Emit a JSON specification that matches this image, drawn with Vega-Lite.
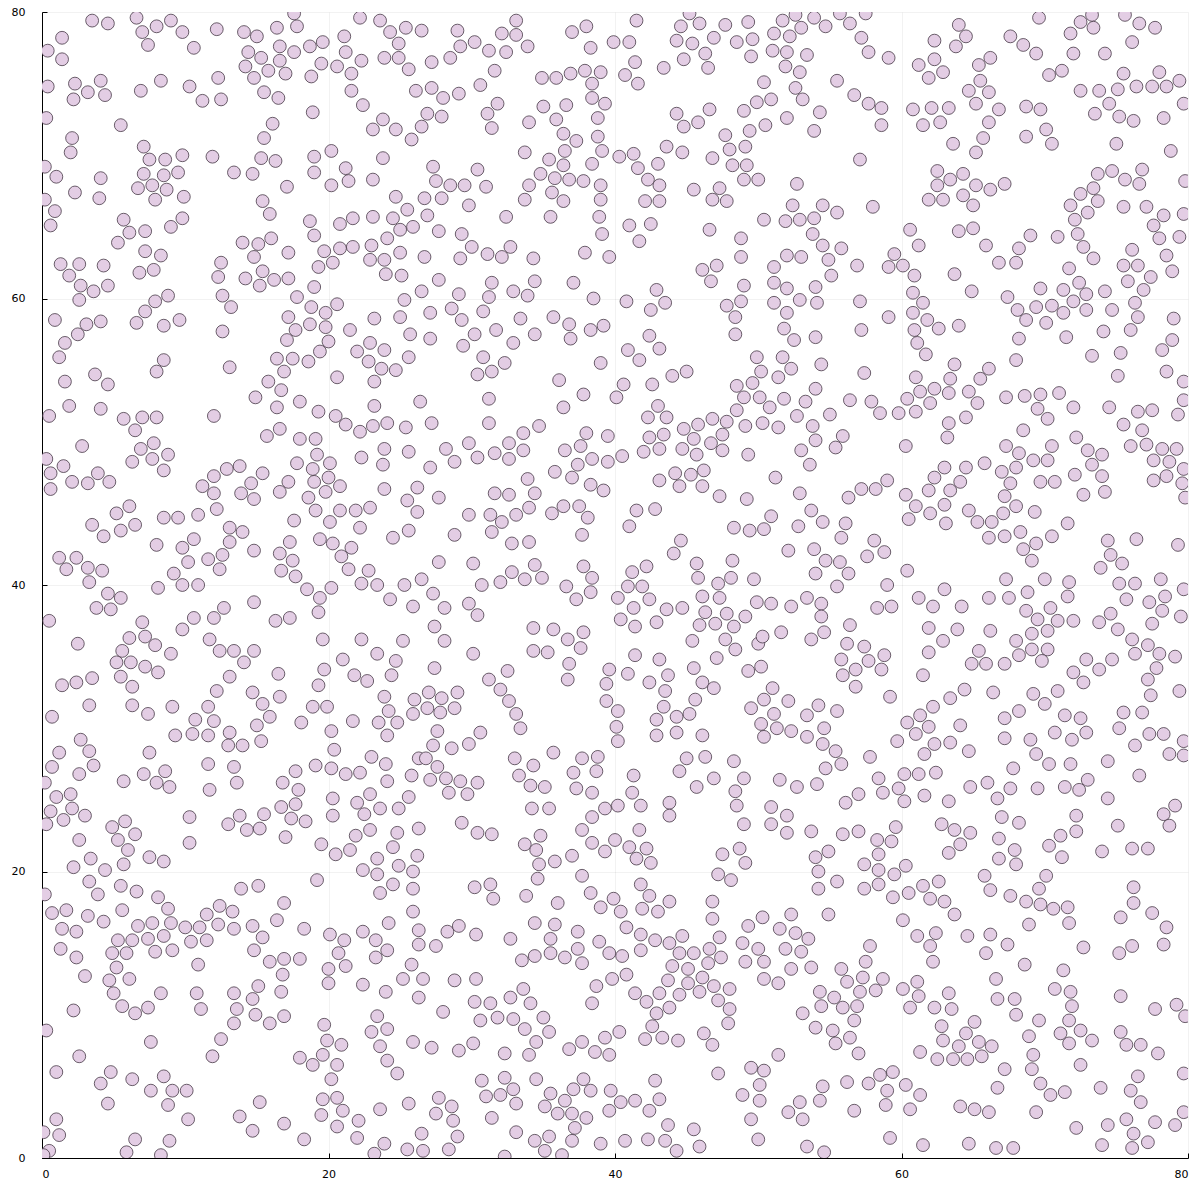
{
  "$schema": "https://vega.github.io/schema/vega-lite/v6.json",
  "autosize": {"type": "none"},
  "padding": {"left": 42, "top": 12, "right": 12, "bottom": 42},
  "width": 1146,
  "height": 1146,
  "background": "white",
  "config": {
    "view": {"stroke": null},
    "axis": {
      "labelFont": "DejaVu Sans",
      "labelFontSize": 11,
      "labelColor": "#000000",
      "domainColor": "#000000",
      "domainWidth": 1,
      "tickColor": "#000000",
      "tickSize": -5,
      "gridColor": "#000000",
      "gridOpacity": 0.1,
      "gridWidth": 0.5,
      "title": null
    }
  },
  "data": {"values": [
{"x":3.5,"y":79.4},{"x":4.6,"y":79.2},{"x":6.6,"y":79.6},{"x":7.0,"y":78.6},{"x":8.0,"y":79.0},{"x":9.0,"y":79.4},{"x":9.8,"y":78.6},{"x":7.4,"y":77.7},{"x":10.6,"y":77.5},{"x":12.2,"y":78.8},
{"x":14.1,"y":78.6},{"x":15.0,"y":78.3},{"x":16.4,"y":78.9},{"x":17.8,"y":79.0},{"x":17.6,"y":79.9},{"x":22.2,"y":79.6},{"x":23.6,"y":79.4},{"x":24.3,"y":78.6},{"x":25.4,"y":78.9},{"x":26.5,"y":78.7},
{"x":24.9,"y":77.8},{"x":1.4,"y":78.2},{"x":0.4,"y":77.3},{"x":1.4,"y":76.7},{"x":14.4,"y":77.2},{"x":15.3,"y":76.8},{"x":16.6,"y":77.6},{"x":16.6,"y":76.6},{"x":17.6,"y":77.2},{"x":18.7,"y":77.6},
{"x":19.6,"y":77.9},{"x":21.1,"y":78.3},{"x":21.2,"y":77.2},{"x":19.5,"y":76.4},{"x":20.6,"y":76.2},{"x":22.3,"y":76.6},{"x":23.9,"y":76.8},{"x":24.9,"y":76.8},{"x":25.6,"y":76.0},{"x":14.2,"y":76.2},
{"x":14.8,"y":75.4},{"x":15.8,"y":75.9},{"x":17.0,"y":75.7},{"x":18.8,"y":75.5},{"x":21.6,"y":75.7},{"x":0.4,"y":74.8},{"x":2.3,"y":75.0},{"x":3.2,"y":74.4},{"x":4.1,"y":75.2},{"x":4.4,"y":74.2},
{"x":2.2,"y":73.9},{"x":6.9,"y":74.5},{"x":8.3,"y":75.2},{"x":10.3,"y":74.8},{"x":11.2,"y":73.8},{"x":12.3,"y":75.4},{"x":12.5,"y":73.9},{"x":15.5,"y":74.4},{"x":16.5,"y":74.0},{"x":21.6,"y":74.5},
{"x":22.4,"y":73.5},{"x":26.1,"y":74.5},{"x":18.9,"y":73.0},{"x":0.3,"y":72.6},{"x":5.5,"y":72.1},{"x":16.1,"y":72.2},{"x":15.5,"y":71.2},{"x":23.8,"y":72.5},{"x":23.1,"y":71.8},{"x":24.7,"y":71.8},
{"x":25.8,"y":71.1},{"x":26.5,"y":72.0},{"x":2.1,"y":71.2},{"x":2.0,"y":70.2},{"x":7.1,"y":70.6},{"x":7.5,"y":69.7},{"x":8.6,"y":69.7},{"x":9.8,"y":70.0},{"x":11.9,"y":69.9},{"x":15.3,"y":69.8},
{"x":16.3,"y":69.6},{"x":19.0,"y":69.9},{"x":20.2,"y":70.3},{"x":23.8,"y":69.8},{"x":0.2,"y":69.2},{"x":1.0,"y":68.5},{"x":4.1,"y":68.4},{"x":7.1,"y":68.7},{"x":8.5,"y":68.6},{"x":9.5,"y":68.8},
{"x":6.7,"y":67.7},{"x":7.7,"y":67.9},{"x":8.7,"y":67.6},{"x":7.9,"y":66.9},{"x":9.9,"y":67.1},{"x":13.4,"y":68.8},{"x":14.7,"y":68.7},{"x":19.0,"y":68.8},{"x":21.2,"y":69.1},{"x":21.4,"y":68.2},
{"x":20.2,"y":67.9},{"x":23.1,"y":68.3},{"x":17.1,"y":67.8},{"x":2.3,"y":67.4},{"x":4.0,"y":67.0},{"x":0.2,"y":66.9},{"x":0.9,"y":66.1},{"x":0.6,"y":65.1},{"x":15.4,"y":66.8},{"x":15.9,"y":65.9},
{"x":24.7,"y":67.1},{"x":26.7,"y":67.0},{"x":25.5,"y":66.2},{"x":5.7,"y":65.5},{"x":6.1,"y":64.6},{"x":7.2,"y":64.7},{"x":5.3,"y":63.9},{"x":9.0,"y":65.0},{"x":9.8,"y":65.6},{"x":18.7,"y":65.4},
{"x":19.0,"y":64.4},{"x":20.8,"y":65.2},{"x":21.7,"y":65.6},{"x":23.1,"y":65.7},{"x":24.5,"y":65.6},{"x":25.0,"y":64.8},{"x":25.9,"y":65.0},{"x":24.1,"y":64.2},{"x":14.0,"y":63.9},{"x":15.1,"y":63.8},
{"x":16.0,"y":64.2},{"x":14.8,"y":62.9},{"x":17.2,"y":63.2},{"x":19.7,"y":63.3},{"x":20.8,"y":63.5},{"x":21.7,"y":63.6},{"x":23.0,"y":63.7},{"x":22.9,"y":62.7},{"x":23.9,"y":62.7},{"x":25.0,"y":63.2},
{"x":24.0,"y":61.7},{"x":25.1,"y":61.6},{"x":7.2,"y":63.3},{"x":8.3,"y":63.0},{"x":6.8,"y":61.8},{"x":7.8,"y":62.0},{"x":1.3,"y":62.4},{"x":2.6,"y":62.4},{"x":4.3,"y":62.3},{"x":1.9,"y":61.6},
{"x":2.7,"y":60.9},{"x":3.6,"y":60.5},{"x":4.6,"y":60.9},{"x":2.6,"y":59.9},{"x":12.5,"y":62.5},{"x":12.3,"y":61.5},{"x":14.2,"y":61.4},{"x":15.4,"y":61.9},{"x":15.2,"y":60.9},{"x":16.2,"y":61.3},
{"x":17.2,"y":61.4},{"x":19.3,"y":62.2},{"x":20.3,"y":62.5},{"x":19.0,"y":60.8},{"x":12.6,"y":60.2},{"x":13.2,"y":59.4},{"x":17.8,"y":60.1},{"x":18.8,"y":59.4},{"x":19.8,"y":59.0},{"x":20.6,"y":59.6},
{"x":25.3,"y":59.9},{"x":26.5,"y":60.5},{"x":17.2,"y":58.7},{"x":18.7,"y":58.2},{"x":19.8,"y":58.0},{"x":17.7,"y":57.8},{"x":17.1,"y":57.1},{"x":20.0,"y":57.0},{"x":19.4,"y":56.3},{"x":21.5,"y":57.8},
{"x":23.2,"y":58.6},{"x":25.0,"y":58.7},{"x":25.7,"y":57.5},{"x":0.9,"y":58.5},{"x":3.1,"y":58.2},{"x":4.1,"y":58.4},{"x":2.5,"y":57.5},{"x":1.6,"y":56.9},{"x":1.2,"y":55.9},{"x":6.6,"y":58.3},
{"x":7.2,"y":59.1},{"x":7.9,"y":59.8},{"x":8.8,"y":60.2},{"x":8.5,"y":58.1},{"x":9.6,"y":58.5},{"x":12.6,"y":57.7},{"x":8.5,"y":55.7},{"x":8.0,"y":54.9},{"x":13.1,"y":55.2},{"x":16.4,"y":55.8},
{"x":17.5,"y":55.8},{"x":16.9,"y":54.9},{"x":18.6,"y":55.6},{"x":22.9,"y":56.9},{"x":22.0,"y":56.3},{"x":23.9,"y":56.4},{"x":22.8,"y":55.6},{"x":23.7,"y":55.1},{"x":24.7,"y":55.0},{"x":25.6,"y":55.9},
{"x":20.6,"y":54.5},{"x":23.2,"y":54.2},{"x":15.8,"y":54.2},{"x":3.7,"y":54.7},{"x":4.6,"y":54.0},{"x":1.6,"y":54.2},
{"x":29.0,"y":78.7},{"x":30.2,"y":77.9},{"x":29.2,"y":77.6},{"x":31.2,"y":77.3},{"x":32.1,"y":78.5},{"x":33.1,"y":79.4},{"x":33.1,"y":78.4},{"x":33.9,"y":77.6},{"x":32.4,"y":77.2},{"x":27.2,"y":76.5},
{"x":28.5,"y":76.8},{"x":31.6,"y":75.9},{"x":30.6,"y":74.9},{"x":27.2,"y":74.7},{"x":28.0,"y":74.0},{"x":29.1,"y":74.3},{"x":31.8,"y":73.6},{"x":31.1,"y":72.9},{"x":26.9,"y":72.9},{"x":27.9,"y":72.7},
{"x":31.4,"y":71.9},{"x":37.0,"y":78.6},{"x":38.0,"y":79.0},{"x":38.3,"y":77.5},{"x":39.9,"y":77.9},{"x":41.0,"y":77.9},{"x":41.5,"y":79.4},{"x":41.4,"y":76.5},{"x":40.7,"y":75.6},{"x":41.6,"y":75.0},
{"x":43.4,"y":76.1},{"x":34.9,"y":75.4},{"x":35.9,"y":75.4},{"x":36.9,"y":75.7},{"x":37.9,"y":75.9},{"x":39.0,"y":75.8},{"x":38.4,"y":75.0},{"x":38.4,"y":74.0},{"x":39.3,"y":73.6},{"x":35.0,"y":73.4},
{"x":36.6,"y":73.5},{"x":38.8,"y":72.6},{"x":34.0,"y":72.3},{"x":35.9,"y":72.5},{"x":36.4,"y":71.5},{"x":37.3,"y":71.0},{"x":38.8,"y":71.3},{"x":36.5,"y":70.3},{"x":39.1,"y":70.3},{"x":33.7,"y":70.2},
{"x":35.4,"y":69.7},{"x":36.4,"y":69.3},{"x":38.4,"y":69.4},{"x":34.8,"y":68.7},{"x":35.8,"y":68.4},{"x":36.8,"y":68.3},{"x":37.8,"y":68.2},{"x":39.0,"y":67.9},{"x":34.0,"y":67.9},{"x":35.6,"y":67.4},
{"x":36.4,"y":66.8},{"x":33.7,"y":66.9},{"x":39.0,"y":66.9},{"x":35.5,"y":65.7},{"x":38.9,"y":65.7},{"x":39.1,"y":64.5},{"x":40.3,"y":69.9},{"x":41.3,"y":70.1},{"x":41.6,"y":69.1},{"x":43.0,"y":69.4},
{"x":42.3,"y":68.3},{"x":43.1,"y":67.9},{"x":42.1,"y":66.8},{"x":43.1,"y":66.8},{"x":43.6,"y":70.6},{"x":44.7,"y":70.2},{"x":45.2,"y":79.9},{"x":44.6,"y":79.0},{"x":45.9,"y":79.2},{"x":44.3,"y":78.0},
{"x":45.4,"y":77.8},{"x":46.9,"y":78.2},{"x":47.7,"y":79.1},{"x":49.3,"y":79.3},{"x":48.5,"y":77.9},{"x":49.6,"y":78.1},{"x":49.5,"y":76.9},{"x":46.3,"y":77.1},{"x":44.8,"y":76.7},{"x":46.5,"y":76.1},
{"x":51.1,"y":78.5},{"x":51.7,"y":79.4},{"x":52.6,"y":79.8},{"x":53.0,"y":78.9},{"x":52.2,"y":78.3},{"x":51.0,"y":77.3},{"x":52.0,"y":77.2},{"x":51.9,"y":76.2},{"x":52.9,"y":75.8},{"x":50.4,"y":75.1},
{"x":52.6,"y":74.7},{"x":53.1,"y":73.9},{"x":49.9,"y":73.7},{"x":50.9,"y":73.9},{"x":49.0,"y":73.1},{"x":52.0,"y":72.6},{"x":49.4,"y":71.7},{"x":50.5,"y":72.1},{"x":44.3,"y":72.9},{"x":44.8,"y":72.0},
{"x":45.8,"y":72.3},{"x":46.6,"y":73.2},{"x":47.7,"y":71.4},{"x":48.0,"y":70.4},{"x":49.1,"y":70.6},{"x":46.8,"y":69.8},{"x":48.2,"y":69.3},{"x":49.2,"y":69.3},{"x":49.0,"y":68.3},{"x":50.0,"y":68.3},
{"x":52.7,"y":68.0},{"x":45.5,"y":67.6},{"x":47.3,"y":67.7},{"x":46.8,"y":66.9},{"x":47.8,"y":66.8},{"x":52.4,"y":66.5},{"x":51.9,"y":65.4},{"x":52.9,"y":65.5},{"x":50.4,"y":65.5},{"x":46.6,"y":64.8},
{"x":48.8,"y":64.2},{"x":48.8,"y":62.9},{"x":52.0,"y":63.0},{"x":53.0,"y":62.9},{"x":51.1,"y":62.2},{"x":51.1,"y":61.1},{"x":52.0,"y":60.7},{"x":49.0,"y":60.9},{"x":48.8,"y":59.8},{"x":47.8,"y":59.5},
{"x":48.4,"y":58.7},{"x":48.4,"y":57.5},{"x":51.1,"y":59.7},{"x":52.0,"y":59.0},{"x":52.9,"y":59.9},{"x":51.8,"y":57.9},{"x":52.5,"y":57.1},{"x":49.9,"y":55.9},{"x":50.2,"y":54.9},{"x":51.7,"y":55.9},
{"x":52.3,"y":55.1},{"x":51.4,"y":54.5},{"x":49.6,"y":54.1},{"x":48.5,"y":53.9},{"x":46.1,"y":62.0},{"x":47.1,"y":62.3},{"x":46.7,"y":61.2},{"x":41.0,"y":65.1},{"x":42.5,"y":65.2},{"x":41.7,"y":64.0},
{"x":37.9,"y":63.2},{"x":39.6,"y":62.9},{"x":37.1,"y":61.1},{"x":38.5,"y":60.0},{"x":40.8,"y":59.8},{"x":42.9,"y":60.6},{"x":43.5,"y":59.7},{"x":42.5,"y":59.2},{"x":42.4,"y":57.4},{"x":43.1,"y":56.5},
{"x":40.9,"y":56.4},{"x":41.7,"y":55.7},{"x":39.0,"y":55.5},{"x":44.0,"y":54.6},{"x":45.0,"y":54.9},{"x":42.6,"y":54.0},{"x":40.6,"y":54.0},{"x":36.1,"y":54.3},{"x":35.7,"y":58.7},{"x":36.8,"y":58.2},
{"x":36.9,"y":57.2},{"x":38.3,"y":57.8},{"x":39.2,"y":58.1},{"x":34.4,"y":57.5},{"x":33.4,"y":58.6},{"x":32.9,"y":56.9},{"x":31.7,"y":57.8},{"x":30.2,"y":57.5},{"x":29.4,"y":56.7},{"x":30.8,"y":55.9},
{"x":32.3,"y":55.5},{"x":31.4,"y":54.9},{"x":30.4,"y":54.7},{"x":27.1,"y":57.2},{"x":27.1,"y":59.0},{"x":28.6,"y":59.3},{"x":29.3,"y":58.5},{"x":30.8,"y":59.1},{"x":31.2,"y":60.1},{"x":31.4,"y":61.1},
{"x":29.1,"y":60.3},{"x":27.7,"y":61.3},{"x":32.9,"y":60.5},{"x":33.9,"y":60.2},{"x":34.4,"y":61.2},{"x":34.3,"y":62.8},{"x":26.7,"y":62.9},{"x":29.2,"y":62.8},{"x":30.0,"y":63.6},{"x":31.1,"y":63.1},
{"x":32.1,"y":62.9},{"x":32.7,"y":63.6},{"x":29.3,"y":64.5},{"x":27.7,"y":64.7},{"x":26.9,"y":65.8},{"x":27.9,"y":67.0},{"x":28.5,"y":67.9},{"x":29.5,"y":67.9},{"x":31.0,"y":67.8},{"x":29.8,"y":66.5},
{"x":32.4,"y":65.7},{"x":27.5,"y":68.2},{"x":27.3,"y":69.2},{"x":30.4,"y":69.0},
{"x":53.9,"y":79.6},{"x":54.7,"y":79.0},{"x":55.7,"y":79.9},{"x":56.4,"y":79.2},{"x":57.5,"y":79.9},{"x":57.2,"y":78.2},{"x":57.7,"y":77.2},{"x":59.1,"y":76.8},{"x":53.4,"y":77.0},{"x":55.5,"y":75.2},
{"x":56.7,"y":74.2},{"x":57.7,"y":73.6},{"x":58.6,"y":73.3},{"x":58.6,"y":72.1},{"x":54.3,"y":73.0},{"x":53.9,"y":71.7},{"x":57.1,"y":69.7},{"x":54.5,"y":66.5},{"x":55.5,"y":66.0},{"x":53.9,"y":65.6},
{"x":53.8,"y":64.5},{"x":54.5,"y":63.7},{"x":55.8,"y":63.5},{"x":54.9,"y":62.7},{"x":55.1,"y":61.6},{"x":56.9,"y":62.3},{"x":58.0,"y":66.4},{"x":54.0,"y":60.8},{"x":54.1,"y":59.7},{"x":57.1,"y":59.8},
{"x":59.1,"y":58.7},{"x":57.2,"y":57.8},{"x":54.0,"y":57.3},{"x":54.4,"y":55.4},{"x":57.4,"y":54.8},{"x":54.0,"y":53.7},{"x":62.3,"y":78.0},{"x":64.0,"y":79.1},{"x":64.5,"y":78.3},{"x":63.8,"y":77.6},
{"x":61.2,"y":76.3},{"x":62.3,"y":76.7},{"x":62.9,"y":75.8},{"x":61.9,"y":75.4},{"x":65.4,"y":76.3},{"x":66.2,"y":76.8},{"x":65.5,"y":75.2},{"x":64.7,"y":74.5},{"x":66.1,"y":74.4},{"x":65.2,"y":73.6},
{"x":66.8,"y":73.2},{"x":66.1,"y":72.3},{"x":65.7,"y":71.2},{"x":65.2,"y":70.2},{"x":63.6,"y":70.8},{"x":60.8,"y":73.2},{"x":62.1,"y":73.3},{"x":63.3,"y":73.3},{"x":61.5,"y":72.1},{"x":62.7,"y":72.3},
{"x":67.6,"y":78.3},{"x":68.5,"y":77.7},{"x":69.4,"y":77.1},{"x":69.6,"y":79.6},{"x":70.3,"y":75.6},{"x":71.2,"y":75.9},{"x":68.7,"y":73.4},{"x":69.7,"y":73.2},{"x":70.1,"y":71.8},{"x":70.5,"y":70.8},
{"x":68.7,"y":71.3},{"x":71.8,"y":78.5},{"x":72.5,"y":79.3},{"x":73.3,"y":79.8},{"x":73.4,"y":78.9},{"x":72.0,"y":77.1},{"x":74.2,"y":77.1},{"x":75.6,"y":79.8},{"x":76.6,"y":79.2},{"x":77.7,"y":78.9},
{"x":76.1,"y":77.9},{"x":75.5,"y":75.7},{"x":78.0,"y":75.8},{"x":79.4,"y":75.2},{"x":72.5,"y":74.5},{"x":73.8,"y":74.5},{"x":75.1,"y":74.6},{"x":76.4,"y":74.8},{"x":77.5,"y":74.8},{"x":78.5,"y":74.8},
{"x":79.7,"y":73.6},{"x":74.5,"y":73.6},{"x":73.5,"y":72.9},{"x":75.2,"y":72.7},{"x":76.2,"y":72.4},{"x":78.3,"y":72.6},{"x":75.0,"y":70.8},{"x":78.8,"y":70.3},{"x":62.5,"y":68.9},{"x":63.4,"y":68.3},
{"x":64.3,"y":68.7},{"x":62.5,"y":67.9},{"x":61.9,"y":66.9},{"x":62.9,"y":66.9},{"x":64.3,"y":67.2},{"x":65.2,"y":67.9},{"x":66.2,"y":67.6},{"x":67.2,"y":68.0},{"x":65.0,"y":66.5},{"x":73.7,"y":68.7},
{"x":74.7,"y":68.9},{"x":75.6,"y":68.3},{"x":76.8,"y":69.0},{"x":76.6,"y":68.0},{"x":79.8,"y":68.2},{"x":72.5,"y":67.3},{"x":73.4,"y":67.7},{"x":71.8,"y":66.5},{"x":73.0,"y":66.0},{"x":73.7,"y":66.8},
{"x":72.1,"y":65.5},{"x":75.5,"y":66.4},{"x":77.1,"y":66.4},{"x":78.3,"y":65.8},{"x":77.6,"y":65.1},{"x":78.0,"y":64.2},{"x":79.4,"y":64.3},{"x":79.7,"y":65.9},{"x":72.3,"y":64.5},{"x":72.7,"y":63.6},
{"x":73.4,"y":62.8},{"x":60.6,"y":64.8},{"x":61.2,"y":63.7},{"x":64.0,"y":64.7},{"x":65.0,"y":64.9},{"x":65.9,"y":63.7},{"x":68.2,"y":63.5},{"x":69.0,"y":64.4},{"x":70.9,"y":64.3},{"x":66.8,"y":62.5},
{"x":68.0,"y":62.5},{"x":59.5,"y":63.1},{"x":59.1,"y":62.2},{"x":60.1,"y":62.3},{"x":60.9,"y":61.6},{"x":63.7,"y":61.7},{"x":64.9,"y":60.5},{"x":60.8,"y":60.4},{"x":61.5,"y":59.7},{"x":60.8,"y":59.0},
{"x":61.8,"y":58.5},{"x":60.9,"y":57.8},{"x":61.1,"y":56.9},{"x":61.7,"y":56.1},{"x":62.6,"y":57.9},{"x":64.0,"y":58.1},{"x":67.4,"y":60.1},{"x":68.1,"y":59.2},{"x":68.7,"y":58.5},{"x":69.4,"y":59.4},
{"x":70.1,"y":58.3},{"x":70.5,"y":59.5},{"x":71.3,"y":59.0},{"x":72.0,"y":59.8},{"x":72.9,"y":59.2},{"x":72.4,"y":61.1},{"x":71.3,"y":60.6},{"x":72.9,"y":60.3},{"x":69.7,"y":60.7},{"x":71.7,"y":62.1},
{"x":74.2,"y":60.5},{"x":76.1,"y":63.4},{"x":75.5,"y":62.3},{"x":76.5,"y":62.3},{"x":75.8,"y":61.2},{"x":77.4,"y":61.5},{"x":76.9,"y":60.6},{"x":76.3,"y":59.7},{"x":76.5,"y":58.7},{"x":76.0,"y":57.8},
{"x":74.7,"y":59.2},{"x":74.1,"y":57.7},{"x":78.5,"y":63.0},{"x":78.9,"y":61.9},{"x":79.0,"y":58.6},{"x":78.9,"y":57.1},{"x":78.2,"y":56.4},{"x":71.5,"y":57.3},{"x":68.2,"y":57.2},{"x":68.0,"y":55.7},
{"x":73.3,"y":56.0},{"x":75.3,"y":56.2},{"x":75.1,"y":54.6},{"x":78.5,"y":54.9},{"x":79.7,"y":54.2},{"x":63.7,"y":55.4},{"x":63.4,"y":54.4},{"x":66.1,"y":55.1},{"x":65.5,"y":54.4},{"x":61.0,"y":54.5},
{"x":62.3,"y":53.7},
{"x":14.9,"y":53.1},{"x":16.7,"y":53.6},{"x":1.9,"y":52.5},{"x":4.1,"y":52.3},{"x":0.5,"y":51.8},{"x":5.7,"y":51.6},{"x":7.0,"y":51.7},{"x":8.0,"y":51.7},{"x":6.5,"y":50.8},{"x":12.0,"y":51.8},
{"x":16.4,"y":52.4},{"x":18.0,"y":52.8},{"x":16.6,"y":50.9},{"x":15.7,"y":50.4},{"x":19.3,"y":52.1},{"x":20.5,"y":51.8},{"x":21.2,"y":51.2},{"x":22.2,"y":50.7},{"x":23.1,"y":51.1},{"x":24.1,"y":51.3},
{"x":25.4,"y":51.0},{"x":23.2,"y":52.5},{"x":26.4,"y":52.8},{"x":18.0,"y":50.2},{"x":19.1,"y":50.2},{"x":19.2,"y":49.1},{"x":17.8,"y":48.5},{"x":18.9,"y":48.1},{"x":20.1,"y":48.5},{"x":19.0,"y":47.2},
{"x":20.0,"y":47.5},{"x":19.8,"y":46.5},{"x":20.8,"y":46.9},{"x":18.6,"y":46.1},{"x":17.2,"y":47.2},{"x":16.6,"y":46.5},{"x":2.8,"y":49.7},{"x":0.3,"y":48.8},{"x":0.6,"y":47.8},{"x":1.5,"y":48.3},
{"x":2.1,"y":47.2},{"x":3.2,"y":47.1},{"x":3.9,"y":47.8},{"x":4.7,"y":47.2},{"x":0.6,"y":46.7},{"x":6.3,"y":48.6},{"x":6.9,"y":49.5},{"x":7.8,"y":49.9},{"x":7.7,"y":48.8},{"x":8.8,"y":49.1},
{"x":8.5,"y":48.0},{"x":12.0,"y":47.6},{"x":11.2,"y":46.9},{"x":12.0,"y":46.4},{"x":12.9,"y":48.1},{"x":13.8,"y":48.3},{"x":15.4,"y":47.8},{"x":14.6,"y":47.1},{"x":13.9,"y":46.4},{"x":14.8,"y":46.0},
{"x":12.2,"y":45.3},{"x":10.9,"y":44.9},{"x":9.5,"y":44.7},{"x":8.5,"y":44.7},{"x":17.6,"y":44.5},{"x":23.9,"y":49.5},{"x":23.8,"y":48.4},{"x":22.3,"y":48.9},{"x":25.6,"y":49.3},{"x":23.9,"y":46.7},
{"x":26.2,"y":46.8},{"x":25.5,"y":45.9},{"x":26.2,"y":45.1},{"x":19.1,"y":45.2},{"x":20.8,"y":45.2},{"x":21.9,"y":45.2},{"x":22.9,"y":45.4},{"x":20.1,"y":44.4},{"x":22.2,"y":44.0},{"x":24.5,"y":43.3},
{"x":25.6,"y":43.8},{"x":5.2,"y":45.0},{"x":6.1,"y":45.5},{"x":3.5,"y":44.2},{"x":4.3,"y":43.4},{"x":5.5,"y":43.8},{"x":6.5,"y":44.2},{"x":8.0,"y":42.8},{"x":9.8,"y":42.6},{"x":10.6,"y":43.2},
{"x":13.1,"y":44.0},{"x":14.0,"y":43.7},{"x":13.1,"y":43.0},{"x":14.8,"y":42.4},{"x":17.3,"y":43.0},{"x":16.6,"y":42.2},{"x":17.5,"y":41.7},{"x":16.7,"y":41.0},{"x":17.7,"y":40.6},{"x":19.4,"y":43.2},
{"x":20.3,"y":42.9},{"x":21.6,"y":42.6},{"x":20.9,"y":42.0},{"x":21.4,"y":41.1},{"x":22.8,"y":41.0},{"x":22.3,"y":40.1},{"x":23.4,"y":40.0},{"x":25.3,"y":40.0},{"x":26.5,"y":40.4},{"x":24.3,"y":39.0},
{"x":25.9,"y":38.5},{"x":18.5,"y":39.7},{"x":19.4,"y":39.1},{"x":20.2,"y":39.8},{"x":19.3,"y":38.1},{"x":11.6,"y":41.8},{"x":12.6,"y":42.1},{"x":12.4,"y":41.1},{"x":10.2,"y":41.6},{"x":9.2,"y":40.8},
{"x":9.8,"y":40.0},{"x":10.9,"y":40.0},{"x":8.1,"y":39.8},{"x":1.2,"y":41.9},{"x":2.4,"y":41.9},{"x":1.7,"y":41.1},{"x":3.2,"y":41.2},{"x":4.2,"y":41.0},{"x":3.3,"y":40.2},{"x":4.6,"y":39.4},
{"x":5.5,"y":39.1},{"x":3.8,"y":38.4},{"x":4.8,"y":38.3},{"x":0.5,"y":37.5},{"x":14.8,"y":38.8},{"x":12.7,"y":38.4},{"x":12.0,"y":37.7},{"x":10.6,"y":37.7},{"x":9.8,"y":36.9},{"x":16.3,"y":37.5},
{"x":17.3,"y":37.7},{"x":7.0,"y":37.4},{"x":7.2,"y":36.4},{"x":6.1,"y":36.3},{"x":7.9,"y":35.8},{"x":9.0,"y":35.2},{"x":5.6,"y":35.4},{"x":5.2,"y":34.6},{"x":6.2,"y":34.6},{"x":7.2,"y":34.3},
{"x":8.1,"y":33.9},{"x":5.5,"y":33.6},{"x":6.3,"y":32.9},{"x":2.5,"y":35.9},{"x":1.4,"y":33.0},{"x":2.4,"y":33.2},{"x":3.5,"y":33.5},{"x":3.3,"y":31.6},{"x":0.7,"y":30.8},{"x":6.3,"y":31.6},
{"x":7.4,"y":31.0},{"x":9.1,"y":31.5},{"x":11.7,"y":36.2},{"x":12.4,"y":35.4},{"x":13.4,"y":35.4},{"x":14.8,"y":35.4},{"x":14.1,"y":34.6},{"x":13.1,"y":33.6},{"x":12.2,"y":32.6},{"x":14.7,"y":32.5},
{"x":15.4,"y":31.7},{"x":15.9,"y":30.8},{"x":15.0,"y":30.2},{"x":16.5,"y":33.8},{"x":16.6,"y":32.2},{"x":11.6,"y":31.5},{"x":10.7,"y":30.6},{"x":12.0,"y":30.5},{"x":9.3,"y":29.5},{"x":10.5,"y":29.6},
{"x":11.6,"y":29.5},{"x":13.1,"y":29.7},{"x":13.0,"y":28.8},{"x":14.0,"y":28.8},{"x":15.3,"y":29.1},{"x":19.6,"y":36.2},{"x":22.3,"y":36.2},{"x":25.2,"y":36.1},{"x":21.0,"y":34.8},{"x":23.4,"y":35.2},
{"x":24.7,"y":34.7},{"x":19.7,"y":34.1},{"x":21.8,"y":33.7},{"x":22.7,"y":33.3},{"x":24.4,"y":33.7},{"x":19.3,"y":33.0},{"x":23.9,"y":32.2},{"x":26.0,"y":32.0},{"x":24.2,"y":31.2},{"x":25.9,"y":31.0},
{"x":23.5,"y":30.4},{"x":24.8,"y":30.4},{"x":24.1,"y":29.5},{"x":18.9,"y":31.5},{"x":19.9,"y":31.5},{"x":18.1,"y":30.4},{"x":21.7,"y":30.5},{"x":20.2,"y":29.8},{"x":20.4,"y":28.5},{"x":23.0,"y":28.0},
{"x":24.0,"y":27.5},{"x":26.3,"y":27.9},{"x":19.1,"y":27.4},{"x":20.2,"y":27.2},{"x":21.2,"y":26.8},{"x":22.2,"y":26.9},{"x":17.7,"y":27.0},{"x":13.4,"y":27.3},{"x":11.6,"y":27.5},{"x":8.6,"y":27.0},
{"x":7.1,"y":26.8},{"x":2.6,"y":26.8},{"x":3.6,"y":27.4},{"x":0.7,"y":27.3},{"x":1.2,"y":28.3},{"x":2.7,"y":29.2},{"x":3.3,"y":28.4},{"x":7.5,"y":28.3},
{"x":31.2,"y":53.0},{"x":37.8,"y":53.3},{"x":40.1,"y":53.1},{"x":36.4,"y":52.4},{"x":27.2,"y":51.3},{"x":31.2,"y":51.3},{"x":29.8,"y":49.9},{"x":28.2,"y":49.5},{"x":28.8,"y":48.6},{"x":30.4,"y":48.9},
{"x":31.6,"y":49.2},{"x":32.6,"y":49.9},{"x":33.6,"y":50.6},{"x":33.6,"y":49.4},{"x":32.6,"y":48.8},{"x":34.7,"y":51.1},{"x":27.1,"y":48.2},{"x":27.7,"y":46.1},{"x":31.6,"y":46.4},{"x":32.6,"y":46.3},
{"x":33.9,"y":47.4},{"x":34.4,"y":46.4},{"x":34.0,"y":45.4},{"x":33.1,"y":44.9},{"x":32.1,"y":44.4},{"x":31.3,"y":44.9},{"x":31.4,"y":43.7},{"x":29.8,"y":44.9},{"x":28.8,"y":43.5},{"x":32.8,"y":42.9},
{"x":34.0,"y":43.0},{"x":36.5,"y":49.4},{"x":37.6,"y":49.7},{"x":38.0,"y":50.6},{"x":39.5,"y":50.4},{"x":37.4,"y":48.4},{"x":38.4,"y":48.8},{"x":39.5,"y":48.6},{"x":40.5,"y":49.0},{"x":35.8,"y":47.9},
{"x":37.0,"y":47.5},{"x":38.3,"y":47.0},{"x":39.2,"y":46.6},{"x":35.6,"y":45.0},{"x":36.4,"y":45.5},{"x":37.5,"y":45.5},{"x":38.1,"y":44.7},{"x":37.7,"y":43.5},{"x":27.7,"y":41.6},{"x":30.1,"y":41.5},
{"x":27.3,"y":39.4},{"x":30.7,"y":40.0},{"x":32.0,"y":40.2},{"x":32.8,"y":40.9},{"x":33.7,"y":40.4},{"x":34.4,"y":41.4},{"x":34.9,"y":40.5},{"x":37.8,"y":41.3},{"x":38.4,"y":40.5},{"x":38.3,"y":39.5},
{"x":36.6,"y":39.9},{"x":37.3,"y":39.0},{"x":29.8,"y":38.7},{"x":30.4,"y":37.9},{"x":28.1,"y":38.4},{"x":27.4,"y":37.1},{"x":28.1,"y":36.1},{"x":30.1,"y":35.2},{"x":34.3,"y":37.0},{"x":35.7,"y":36.9},
{"x":36.7,"y":36.2},{"x":37.8,"y":36.7},{"x":37.6,"y":35.6},{"x":34.3,"y":35.4},{"x":35.3,"y":35.3},{"x":36.8,"y":34.5},{"x":36.7,"y":33.4},{"x":27.4,"y":34.2},{"x":31.2,"y":33.4},{"x":32.5,"y":34.0},
{"x":32.0,"y":32.7},{"x":32.6,"y":31.9},{"x":33.1,"y":31.0},{"x":33.4,"y":30.0},{"x":27.0,"y":32.5},{"x":27.9,"y":32.1},{"x":29.0,"y":32.5},{"x":26.9,"y":31.4},{"x":27.8,"y":31.1},{"x":28.8,"y":31.4},
{"x":27.6,"y":29.8},{"x":27.3,"y":28.8},{"x":28.6,"y":28.6},{"x":29.8,"y":28.9},{"x":30.6,"y":29.7},{"x":26.8,"y":27.9},{"x":27.6,"y":27.3},{"x":33.0,"y":27.9},{"x":34.3,"y":27.4},{"x":35.7,"y":28.3},
{"x":37.7,"y":27.9},{"x":38.8,"y":28.0},{"x":38.7,"y":27.0},{"x":37.1,"y":26.9},{"x":42.3,"y":51.7},{"x":43.0,"y":52.5},{"x":43.6,"y":51.7},{"x":42.4,"y":50.3},{"x":43.4,"y":50.5},{"x":42.0,"y":49.3},
{"x":43.1,"y":49.5},{"x":44.8,"y":50.9},{"x":45.8,"y":51.2},{"x":46.8,"y":51.6},{"x":47.8,"y":51.4},{"x":48.5,"y":52.2},{"x":49.0,"y":53.1},{"x":50.1,"y":53.1},{"x":50.8,"y":52.4},{"x":51.8,"y":53.0},
{"x":52.7,"y":51.8},{"x":45.5,"y":50.2},{"x":46.7,"y":49.9},{"x":47.5,"y":50.5},{"x":47.5,"y":49.4},{"x":44.7,"y":49.5},{"x":45.7,"y":49.1},{"x":49.1,"y":51.1},{"x":50.3,"y":51.3},{"x":51.4,"y":51.0},
{"x":49.3,"y":49.1},{"x":53.0,"y":49.4},{"x":43.1,"y":47.3},{"x":44.2,"y":47.8},{"x":45.3,"y":47.7},{"x":46.2,"y":48.0},{"x":44.5,"y":46.9},{"x":46.1,"y":46.9},{"x":47.3,"y":46.2},{"x":49.2,"y":46.0},
{"x":51.2,"y":47.5},{"x":52.9,"y":46.4},{"x":41.5,"y":45.2},{"x":42.8,"y":45.3},{"x":41.0,"y":44.1},{"x":48.3,"y":44.0},{"x":49.4,"y":43.8},{"x":50.4,"y":43.9},{"x":50.9,"y":44.8},{"x":52.8,"y":44.1},
{"x":44.6,"y":43.1},{"x":44.1,"y":42.2},{"x":45.7,"y":41.5},{"x":45.8,"y":40.5},{"x":48.2,"y":41.7},{"x":48.1,"y":40.5},{"x":47.2,"y":40.1},{"x":49.7,"y":40.4},{"x":52.1,"y":42.4},{"x":41.2,"y":40.9},
{"x":42.2,"y":41.3},{"x":40.9,"y":39.9},{"x":41.9,"y":39.9},{"x":40.2,"y":39.1},{"x":42.4,"y":39.0},{"x":41.3,"y":38.4},{"x":40.4,"y":37.6},{"x":41.4,"y":37.1},{"x":43.6,"y":38.3},{"x":44.7,"y":38.4},
{"x":42.9,"y":37.4},{"x":46.1,"y":39.2},{"x":47.3,"y":39.1},{"x":46.3,"y":38.1},{"x":47.8,"y":38.0},{"x":45.9,"y":37.2},{"x":47.0,"y":37.3},{"x":48.3,"y":37.1},{"x":49.1,"y":37.8},{"x":47.7,"y":36.2},
{"x":48.4,"y":35.5},{"x":50.0,"y":35.9},{"x":50.3,"y":36.4},{"x":49.9,"y":38.8},{"x":50.9,"y":38.7},{"x":52.3,"y":38.5},{"x":51.6,"y":36.7},{"x":45.4,"y":36.1},{"x":47.1,"y":34.9},{"x":49.3,"y":34.0},
{"x":50.2,"y":34.3},{"x":41.4,"y":35.1},{"x":43.1,"y":34.8},{"x":40.9,"y":33.8},{"x":39.6,"y":34.1},{"x":39.4,"y":33.1},{"x":39.4,"y":31.9},{"x":40.2,"y":31.2},{"x":40.1,"y":30.1},{"x":40.2,"y":29.1},
{"x":42.4,"y":33.2},{"x":43.7,"y":33.7},{"x":43.5,"y":32.6},{"x":43.4,"y":31.5},{"x":42.9,"y":30.6},{"x":42.9,"y":29.5},{"x":44.3,"y":30.8},{"x":44.3,"y":29.7},{"x":45.2,"y":31.0},{"x":45.6,"y":32.0},
{"x":45.5,"y":34.2},{"x":46.1,"y":33.2},{"x":46.9,"y":32.8},{"x":46.1,"y":29.5},{"x":49.5,"y":31.4},{"x":50.4,"y":32.0},{"x":51.0,"y":32.8},{"x":52.1,"y":31.9},{"x":51.1,"y":31.0},{"x":50.2,"y":30.3},
{"x":51.3,"y":30.0},{"x":52.3,"y":29.8},{"x":50.4,"y":29.4},{"x":45.0,"y":27.9},{"x":46.3,"y":28.0},{"x":44.5,"y":27.0},{"x":48.3,"y":27.7},
{"x":53.3,"y":52.8},{"x":55.0,"y":51.9},{"x":56.4,"y":52.9},{"x":57.9,"y":52.8},{"x":58.5,"y":52.0},{"x":59.8,"y":52.0},{"x":60.4,"y":53.0},{"x":61.0,"y":52.1},{"x":61.3,"y":53.5},{"x":62.0,"y":52.7},
{"x":63.3,"y":53.4},{"x":64.7,"y":53.5},{"x":65.3,"y":52.7},{"x":64.5,"y":51.7},{"x":63.3,"y":51.3},{"x":63.2,"y":50.3},{"x":60.3,"y":49.7},{"x":67.3,"y":53.1},{"x":68.6,"y":53.2},{"x":69.7,"y":53.3},
{"x":71.0,"y":53.4},{"x":69.5,"y":52.3},{"x":70.2,"y":51.6},{"x":72.0,"y":52.4},{"x":74.5,"y":52.4},{"x":76.5,"y":52.1},{"x":77.5,"y":52.2},{"x":79.7,"y":52.9},{"x":79.3,"y":51.9},{"x":75.5,"y":51.2},
{"x":76.8,"y":50.8},{"x":77.1,"y":49.8},{"x":76.0,"y":49.7},{"x":78.2,"y":49.5},{"x":79.2,"y":49.5},{"x":77.6,"y":48.7},{"x":78.7,"y":48.6},{"x":79.7,"y":48.1},{"x":77.6,"y":47.3},{"x":78.5,"y":47.6},
{"x":79.6,"y":47.1},{"x":79.8,"y":46.1},{"x":68.5,"y":50.8},{"x":67.3,"y":49.7},{"x":68.2,"y":49.2},{"x":69.2,"y":48.7},{"x":70.2,"y":48.7},{"x":70.5,"y":49.7},{"x":72.2,"y":50.3},{"x":73.0,"y":49.4},
{"x":74.0,"y":49.1},{"x":73.3,"y":48.4},{"x":74.0,"y":47.6},{"x":72.1,"y":47.7},{"x":72.7,"y":46.3},{"x":74.2,"y":46.5},{"x":69.7,"y":47.2},{"x":70.7,"y":47.2},{"x":65.8,"y":48.5},{"x":67.0,"y":47.9},
{"x":67.6,"y":47.1},{"x":68.0,"y":48.2},{"x":64.5,"y":48.2},{"x":63.0,"y":48.2},{"x":62.3,"y":47.5},{"x":64.1,"y":47.2},{"x":61.9,"y":46.6},{"x":63.4,"y":46.6},{"x":60.3,"y":46.3},{"x":61.0,"y":45.5},
{"x":63.0,"y":45.6},{"x":60.5,"y":44.6},{"x":62.0,"y":45.0},{"x":63.1,"y":44.3},{"x":64.7,"y":45.2},{"x":65.3,"y":44.4},{"x":66.3,"y":44.4},{"x":67.2,"y":46.2},{"x":67.1,"y":45.0},{"x":68.0,"y":45.5},
{"x":69.3,"y":45.1},{"x":71.6,"y":44.3},{"x":66.1,"y":43.3},{"x":67.2,"y":43.4},{"x":68.3,"y":43.7},{"x":69.4,"y":42.9},{"x":68.5,"y":42.5},{"x":69.1,"y":41.7},{"x":70.5,"y":43.4},{"x":74.4,"y":43.1},
{"x":76.4,"y":43.2},{"x":74.6,"y":42.1},{"x":75.4,"y":41.5},{"x":73.9,"y":41.2},{"x":79.3,"y":42.8},{"x":53.8,"y":51.1},{"x":54.0,"y":50.1},{"x":55.9,"y":50.4},{"x":55.4,"y":49.6},{"x":53.6,"y":48.4},
{"x":56.3,"y":46.1},{"x":57.2,"y":46.7},{"x":58.2,"y":46.7},{"x":59.0,"y":47.3},{"x":53.7,"y":45.2},{"x":54.5,"y":44.4},{"x":56.1,"y":44.3},{"x":55.8,"y":43.3},{"x":53.9,"y":42.5},{"x":54.7,"y":41.7},
{"x":55.7,"y":41.6},{"x":54.0,"y":40.8},{"x":56.3,"y":40.8},{"x":55.5,"y":39.9},{"x":58.1,"y":43.1},{"x":57.6,"y":42.0},{"x":58.8,"y":42.3},{"x":60.4,"y":41.0},{"x":59.0,"y":40.0},{"x":53.4,"y":39.1},
{"x":54.4,"y":38.7},{"x":54.4,"y":37.8},{"x":54.6,"y":36.7},{"x":53.7,"y":36.2},{"x":56.4,"y":37.2},{"x":58.3,"y":38.4},{"x":59.3,"y":38.5},{"x":56.2,"y":35.9},{"x":57.4,"y":35.7},{"x":55.8,"y":34.8},
{"x":56.8,"y":34.1},{"x":57.7,"y":34.7},{"x":58.8,"y":35.1},{"x":58.6,"y":34.1},{"x":55.9,"y":33.7},{"x":56.8,"y":32.9},{"x":59.2,"y":32.2},{"x":54.2,"y":31.6},{"x":55.5,"y":31.2},{"x":53.4,"y":30.9},
{"x":54.6,"y":30.0},{"x":53.4,"y":29.4},{"x":54.5,"y":28.9},{"x":55.4,"y":28.4},{"x":55.8,"y":27.5},{"x":54.7,"y":27.2},{"x":57.8,"y":28.0},{"x":59.7,"y":29.1},{"x":60.4,"y":30.4},{"x":61.3,"y":30.9},
{"x":62.2,"y":31.5},{"x":61.9,"y":30.1},{"x":61.0,"y":29.6},{"x":62.3,"y":28.9},{"x":63.4,"y":29.0},{"x":61.6,"y":28.2},{"x":61.2,"y":26.8},{"x":62.4,"y":26.9},{"x":64.1,"y":30.2},{"x":64.7,"y":28.4},
{"x":63.4,"y":32.1},{"x":64.4,"y":32.7},{"x":66.4,"y":32.5},{"x":61.2,"y":39.1},{"x":62.2,"y":38.5},{"x":63.0,"y":39.7},{"x":64.2,"y":38.5},{"x":61.9,"y":37.0},{"x":62.9,"y":36.1},{"x":63.9,"y":36.9},
{"x":61.9,"y":35.3},{"x":61.5,"y":33.7},{"x":66.2,"y":36.8},{"x":66.1,"y":39.1},{"x":67.3,"y":40.4},{"x":67.5,"y":39.1},{"x":68.8,"y":39.5},{"x":70.0,"y":40.4},{"x":71.7,"y":40.2},{"x":71.6,"y":39.2},
{"x":68.7,"y":38.2},{"x":69.5,"y":37.6},{"x":70.4,"y":38.4},{"x":70.9,"y":37.5},{"x":72.0,"y":37.5},{"x":69.1,"y":36.6},{"x":70.2,"y":36.8},{"x":68.0,"y":36.1},{"x":68.2,"y":35.1},{"x":69.1,"y":35.5},
{"x":70.2,"y":35.5},{"x":69.8,"y":34.7},{"x":65.4,"y":35.4},{"x":64.9,"y":34.5},{"x":65.9,"y":34.5},{"x":67.2,"y":34.5},{"x":72.9,"y":34.8},{"x":73.8,"y":34.1},{"x":74.7,"y":34.8},{"x":72.0,"y":33.9},
{"x":72.7,"y":33.2},{"x":73.8,"y":37.4},{"x":74.6,"y":38.0},{"x":75.1,"y":36.9},{"x":76.1,"y":36.2},{"x":76.3,"y":35.2},{"x":77.2,"y":35.8},{"x":78.0,"y":35.2},{"x":79.1,"y":35.0},{"x":77.8,"y":34.2},
{"x":77.2,"y":33.4},{"x":77.4,"y":32.3},{"x":79.4,"y":32.6},{"x":75.2,"y":40.1},{"x":76.3,"y":40.1},{"x":78.1,"y":40.4},{"x":78.4,"y":39.2},{"x":77.3,"y":38.8},{"x":78.2,"y":38.2},{"x":77.5,"y":37.3},
{"x":75.7,"y":39.0},{"x":79.7,"y":39.7},{"x":79.5,"y":37.8},{"x":69.2,"y":32.4},{"x":70.0,"y":31.7},{"x":70.9,"y":32.6},{"x":68.2,"y":31.2},{"x":67.2,"y":30.7},{"x":67.2,"y":29.3},{"x":69.0,"y":29.2},
{"x":69.4,"y":28.2},{"x":70.3,"y":27.5},{"x":67.8,"y":27.2},{"x":70.7,"y":29.7},{"x":71.4,"y":30.9},{"x":72.5,"y":30.7},{"x":72.9,"y":29.7},{"x":71.9,"y":29.2},{"x":71.8,"y":27.5},{"x":74.4,"y":27.7},
{"x":75.5,"y":31.1},{"x":76.8,"y":31.1},{"x":75.2,"y":30.0},{"x":77.3,"y":29.6},{"x":78.3,"y":29.6},{"x":76.3,"y":28.8},{"x":78.7,"y":28.2},{"x":79.7,"y":29.1},{"x":79.7,"y":28.1},
{"x":25.8,"y":26.7},{"x":0.2,"y":26.2},{"x":5.7,"y":26.3},{"x":8.0,"y":26.2},{"x":8.9,"y":25.9},{"x":11.7,"y":25.7},{"x":13.6,"y":26.2},{"x":16.8,"y":26.2},{"x":17.9,"y":25.7},{"x":24.1,"y":26.3},
{"x":2.0,"y":25.4},{"x":1.0,"y":25.2},{"x":0.6,"y":24.2},{"x":2.1,"y":24.4},{"x":0.3,"y":23.3},{"x":1.5,"y":23.6},{"x":3.0,"y":23.9},{"x":4.9,"y":23.1},{"x":5.8,"y":23.5},{"x":6.5,"y":22.6},
{"x":5.3,"y":22.2},{"x":6.0,"y":21.5},{"x":2.6,"y":22.2},{"x":10.3,"y":23.8},{"x":10.3,"y":22.0},{"x":13.0,"y":23.3},{"x":13.8,"y":23.9},{"x":14.3,"y":22.9},{"x":15.2,"y":23.0},{"x":15.5,"y":24.0},
{"x":16.7,"y":24.5},{"x":17.7,"y":24.7},{"x":17.4,"y":23.7},{"x":18.4,"y":23.5},{"x":17.0,"y":22.4},{"x":20.3,"y":25.1},{"x":20.3,"y":23.9},{"x":22.0,"y":24.8},{"x":22.9,"y":25.4},{"x":22.5,"y":24.0},
{"x":23.6,"y":24.4},{"x":24.9,"y":24.4},{"x":25.6,"y":25.2},{"x":26.3,"y":23.0},{"x":22.9,"y":22.9},{"x":21.9,"y":22.5},{"x":21.5,"y":21.5},{"x":20.5,"y":21.2},{"x":19.5,"y":21.9},{"x":24.8,"y":22.7},
{"x":24.5,"y":21.7},{"x":23.4,"y":20.9},{"x":26.2,"y":21.1},{"x":24.9,"y":20.4},{"x":25.9,"y":20.0},{"x":22.4,"y":20.1},{"x":23.4,"y":19.8},{"x":24.5,"y":19.1},{"x":23.6,"y":18.5},{"x":25.9,"y":18.8},
{"x":19.2,"y":19.4},{"x":2.2,"y":20.3},{"x":3.4,"y":20.9},{"x":4.4,"y":20.1},{"x":5.7,"y":20.5},{"x":7.5,"y":21.0},{"x":8.5,"y":20.7},{"x":0.2,"y":18.4},{"x":3.3,"y":19.3},{"x":3.9,"y":18.4},
{"x":5.5,"y":19.0},{"x":6.6,"y":18.6},{"x":8.1,"y":18.2},{"x":8.8,"y":17.4},{"x":13.9,"y":18.8},{"x":15.1,"y":19.0},{"x":16.9,"y":17.8},{"x":16.4,"y":16.6},{"x":0.7,"y":17.1},{"x":1.7,"y":17.3},
{"x":3.2,"y":16.9},{"x":4.3,"y":16.5},{"x":5.6,"y":17.3},{"x":1.4,"y":16.0},{"x":2.4,"y":15.8},{"x":1.3,"y":14.6},{"x":2.4,"y":14.0},{"x":3.0,"y":12.7},{"x":6.7,"y":16.2},{"x":7.7,"y":16.4},
{"x":9.0,"y":16.4},{"x":10.0,"y":16.1},{"x":11.0,"y":16.1},{"x":11.5,"y":17.0},{"x":12.4,"y":17.6},{"x":13.3,"y":17.2},{"x":12.3,"y":16.3},{"x":13.4,"y":16.0},{"x":14.7,"y":16.2},{"x":5.3,"y":15.2},
{"x":6.3,"y":15.2},{"x":7.4,"y":15.3},{"x":8.5,"y":15.5},{"x":10.4,"y":15.1},{"x":11.5,"y":15.2},{"x":9.1,"y":14.5},{"x":7.9,"y":14.4},{"x":5.9,"y":14.3},{"x":4.9,"y":14.3},{"x":5.2,"y":13.3},
{"x":4.7,"y":12.4},{"x":6.1,"y":12.5},{"x":5.0,"y":11.5},{"x":5.6,"y":10.6},{"x":6.5,"y":10.1},{"x":7.4,"y":10.5},{"x":8.3,"y":11.5},{"x":2.2,"y":10.3},{"x":10.9,"y":13.5},{"x":10.8,"y":11.5},
{"x":11.1,"y":10.4},{"x":14.8,"y":14.5},{"x":15.4,"y":15.4},{"x":15.9,"y":13.7},{"x":16.9,"y":13.9},{"x":18.0,"y":13.9},{"x":16.8,"y":12.8},{"x":16.7,"y":11.6},{"x":15.1,"y":12.0},{"x":14.7,"y":11.1},
{"x":13.4,"y":11.5},{"x":13.6,"y":10.4},{"x":14.9,"y":10.0},{"x":15.9,"y":9.4},{"x":16.9,"y":9.9},{"x":13.4,"y":9.4},{"x":18.3,"y":16.0},{"x":20.1,"y":15.6},{"x":21.1,"y":15.2},{"x":20.7,"y":14.3},
{"x":21.2,"y":13.4},{"x":20.0,"y":13.2},{"x":20.0,"y":12.2},{"x":22.4,"y":15.8},{"x":23.3,"y":15.2},{"x":24.1,"y":14.5},{"x":23.3,"y":14.0},{"x":24.2,"y":16.4},{"x":25.9,"y":17.2},{"x":26.3,"y":15.9},
{"x":26.3,"y":14.9},{"x":25.8,"y":13.5},{"x":25.2,"y":12.5},{"x":26.6,"y":12.5},{"x":26.3,"y":11.2},{"x":22.4,"y":12.1},{"x":24.0,"y":11.6},{"x":23.4,"y":9.9},{"x":23.0,"y":8.8},{"x":24.1,"y":9.0},
{"x":23.6,"y":7.8},{"x":24.1,"y":6.8},{"x":24.8,"y":5.9},{"x":25.9,"y":8.1},{"x":19.7,"y":9.3},{"x":19.9,"y":8.2},{"x":20.9,"y":7.9},{"x":19.6,"y":7.2},{"x":20.6,"y":6.5},{"x":20.2,"y":5.5},
{"x":18.0,"y":7.0},{"x":18.9,"y":6.5},{"x":12.5,"y":8.3},{"x":11.9,"y":7.1},{"x":7.6,"y":8.1},{"x":2.6,"y":7.1},{"x":0.3,"y":8.9},{"x":1.0,"y":6.0},{"x":4.1,"y":5.2},{"x":4.8,"y":6.0},
{"x":6.3,"y":5.5},{"x":7.6,"y":4.7},{"x":8.5,"y":5.7},{"x":9.1,"y":4.7},{"x":10.1,"y":4.7},{"x":8.8,"y":3.7},{"x":4.6,"y":3.8},{"x":1.0,"y":2.7},{"x":0.1,"y":1.8},{"x":1.2,"y":1.6},
{"x":0.5,"y":0.5},{"x":0.1,"y":0.2},{"x":6.5,"y":1.3},{"x":5.9,"y":0.4},{"x":8.3,"y":0.2},{"x":8.9,"y":1.2},{"x":10.2,"y":2.7},{"x":13.8,"y":2.9},{"x":14.7,"y":1.9},{"x":15.2,"y":3.9},
{"x":16.9,"y":2.4},{"x":18.3,"y":1.3},{"x":19.6,"y":4.1},{"x":20.6,"y":4.2},{"x":21.0,"y":3.3},{"x":19.5,"y":3.0},{"x":20.6,"y":2.2},{"x":22.1,"y":2.6},{"x":22.0,"y":1.4},{"x":23.6,"y":3.4},
{"x":25.6,"y":3.8},{"x":23.9,"y":1.0},{"x":23.2,"y":0.3},{"x":25.5,"y":0.6},{"x":26.5,"y":1.7},{"x":26.6,"y":0.5},
{"x":27.1,"y":26.4},{"x":28.2,"y":26.5},{"x":29.2,"y":26.3},{"x":30.4,"y":26.2},{"x":28.4,"y":25.5},{"x":29.7,"y":25.4},{"x":33.3,"y":26.7},{"x":34.1,"y":26.0},{"x":35.1,"y":25.9},{"x":41.3,"y":26.7},
{"x":37.3,"y":25.8},{"x":38.4,"y":25.5},{"x":41.2,"y":25.5},{"x":46.9,"y":26.5},{"x":49.0,"y":26.5},{"x":45.7,"y":25.9},{"x":48.4,"y":25.6},{"x":51.5,"y":26.4},{"x":52.7,"y":25.9},{"x":34.2,"y":24.4},
{"x":35.4,"y":24.4},{"x":39.3,"y":24.4},{"x":40.2,"y":24.6},{"x":41.8,"y":24.6},{"x":43.8,"y":24.8},{"x":43.8,"y":23.9},{"x":38.4,"y":23.8},{"x":48.5,"y":24.6},{"x":50.9,"y":24.5},{"x":52.0,"y":23.9},
{"x":50.9,"y":23.3},{"x":52.0,"y":22.7},{"x":49.0,"y":23.3},{"x":29.3,"y":23.4},{"x":30.4,"y":22.7},{"x":31.4,"y":22.6},{"x":37.7,"y":22.9},{"x":38.4,"y":22.0},{"x":39.3,"y":21.4},{"x":40.0,"y":22.2},
{"x":41.0,"y":21.7},{"x":42.2,"y":21.6},{"x":41.5,"y":20.9},{"x":42.5,"y":20.6},{"x":41.7,"y":22.9},{"x":33.7,"y":21.9},{"x":34.8,"y":22.5},{"x":34.5,"y":21.5},{"x":34.7,"y":20.5},{"x":35.8,"y":20.7},
{"x":37.0,"y":21.1},{"x":34.6,"y":19.5},{"x":37.7,"y":19.7},{"x":47.5,"y":21.2},{"x":48.7,"y":21.6},{"x":49.1,"y":20.6},{"x":47.2,"y":19.8},{"x":48.1,"y":19.4},{"x":30.2,"y":18.9},{"x":31.3,"y":19.1},
{"x":31.5,"y":18.1},{"x":33.8,"y":18.3},{"x":36.0,"y":17.8},{"x":38.3,"y":18.5},{"x":39.9,"y":18.1},{"x":39.0,"y":17.5},{"x":40.4,"y":17.2},{"x":41.8,"y":19.1},{"x":42.4,"y":18.3},{"x":41.9,"y":17.4},
{"x":43.0,"y":17.2},{"x":43.8,"y":17.9},{"x":46.8,"y":17.9},{"x":46.8,"y":16.7},{"x":28.3,"y":15.8},{"x":29.1,"y":16.2},{"x":30.3,"y":15.6},{"x":27.5,"y":14.8},{"x":32.7,"y":15.3},{"x":34.4,"y":16.4},
{"x":35.8,"y":16.3},{"x":35.5,"y":15.3},{"x":37.4,"y":15.8},{"x":33.5,"y":13.8},{"x":34.4,"y":14.1},{"x":35.5,"y":14.3},{"x":36.5,"y":14.0},{"x":37.4,"y":14.6},{"x":37.7,"y":13.6},{"x":38.9,"y":15.1},
{"x":39.6,"y":14.3},{"x":40.5,"y":14.1},{"x":40.8,"y":16.1},{"x":41.8,"y":15.6},{"x":41.8,"y":14.5},{"x":42.8,"y":15.2},{"x":43.8,"y":15.0},{"x":44.7,"y":15.5},{"x":44.5,"y":14.3},{"x":45.5,"y":14.3},
{"x":46.6,"y":14.6},{"x":47.3,"y":15.4},{"x":47.4,"y":14.0},{"x":46.5,"y":13.6},{"x":44.0,"y":13.4},{"x":45.1,"y":13.2},{"x":46.1,"y":12.6},{"x":43.7,"y":12.4},{"x":45.1,"y":12.2},{"x":46.9,"y":12.0},
{"x":48.0,"y":11.8},{"x":45.9,"y":11.6},{"x":47.2,"y":11.0},{"x":48.0,"y":10.4},{"x":47.9,"y":9.4},{"x":44.5,"y":11.4},{"x":43.1,"y":11.5},{"x":41.4,"y":11.5},{"x":42.2,"y":10.9},{"x":43.8,"y":10.5},
{"x":42.9,"y":10.1},{"x":42.6,"y":9.2},{"x":42.1,"y":8.3},{"x":43.3,"y":8.4},{"x":44.4,"y":8.2},{"x":46.2,"y":8.7},{"x":46.8,"y":7.9},{"x":39.8,"y":12.5},{"x":40.8,"y":12.8},{"x":38.7,"y":12.0},
{"x":38.4,"y":10.8},{"x":48.9,"y":15.0},{"x":50.0,"y":14.6},{"x":49.3,"y":16.2},{"x":50.3,"y":16.8},{"x":51.5,"y":16.0},{"x":52.3,"y":17.0},{"x":52.6,"y":15.7},{"x":51.9,"y":14.6},{"x":53.0,"y":14.4},
{"x":49.1,"y":13.7},{"x":50.4,"y":13.7},{"x":52.3,"y":13.2},{"x":50.4,"y":12.5},{"x":51.4,"y":12.2},{"x":53.1,"y":10.1},{"x":28.8,"y":12.4},{"x":30.3,"y":12.5},{"x":30.2,"y":10.9},{"x":31.3,"y":10.8},
{"x":32.7,"y":11.2},{"x":33.6,"y":11.8},{"x":34.1,"y":10.8},{"x":28.0,"y":10.2},{"x":30.6,"y":9.6},{"x":31.8,"y":9.8},{"x":32.9,"y":9.7},{"x":33.7,"y":9.0},{"x":35.0,"y":9.8},{"x":35.4,"y":8.8},
{"x":34.5,"y":8.1},{"x":34.0,"y":7.2},{"x":32.3,"y":7.3},{"x":30.1,"y":8.0},{"x":29.1,"y":7.5},{"x":27.2,"y":7.7},{"x":36.8,"y":7.6},{"x":37.7,"y":8.1},{"x":38.6,"y":7.4},{"x":39.6,"y":7.2},
{"x":39.3,"y":8.4},{"x":40.3,"y":8.8},{"x":51.4,"y":7.2},{"x":49.5,"y":6.3},{"x":50.4,"y":6.1},{"x":47.2,"y":5.9},{"x":42.8,"y":5.4},{"x":50.1,"y":5.1},{"x":48.9,"y":4.4},{"x":50.1,"y":4.0},
{"x":49.5,"y":2.7},{"x":50.0,"y":1.3},{"x":52.9,"y":3.9},{"x":52.1,"y":3.2},{"x":53.1,"y":2.7},{"x":45.5,"y":2.0},{"x":45.9,"y":0.8},{"x":43.7,"y":2.3},{"x":43.5,"y":1.2},{"x":44.3,"y":0.5},
{"x":42.3,"y":1.3},{"x":40.7,"y":1.2},{"x":39.0,"y":1.0},{"x":43.1,"y":4.1},{"x":42.4,"y":3.3},{"x":41.4,"y":4.0},{"x":40.4,"y":3.9},{"x":39.6,"y":3.3},{"x":39.7,"y":4.7},{"x":30.7,"y":5.4},
{"x":32.3,"y":5.6},{"x":32.9,"y":4.8},{"x":32.0,"y":4.4},{"x":31.0,"y":4.3},{"x":33.1,"y":3.8},{"x":34.5,"y":5.5},{"x":35.5,"y":4.5},{"x":36.5,"y":4.0},{"x":37.1,"y":4.8},{"x":37.8,"y":5.5},
{"x":38.3,"y":4.7},{"x":35.1,"y":3.6},{"x":36.0,"y":3.1},{"x":37.0,"y":3.1},{"x":38.0,"y":2.8},{"x":37.2,"y":2.1},{"x":37.0,"y":1.2},{"x":35.4,"y":1.5},{"x":34.4,"y":1.2},{"x":35.1,"y":0.5},
{"x":36.3,"y":0.2},{"x":33.1,"y":1.8},{"x":31.4,"y":2.8},{"x":32.3,"y":0.1},{"x":27.7,"y":4.2},{"x":28.6,"y":3.6},{"x":27.5,"y":3.1},{"x":28.7,"y":2.6},{"x":29.0,"y":1.5},{"x":28.4,"y":0.6},
{"x":58.4,"y":26.5},{"x":60.2,"y":26.8},{"x":76.6,"y":26.7},{"x":73.0,"y":26.4},{"x":54.1,"y":26.1},{"x":57.0,"y":25.4},{"x":56.1,"y":24.8},{"x":58.7,"y":25.5},{"x":59.8,"y":25.8},{"x":60.2,"y":24.9},
{"x":61.6,"y":25.3},{"x":63.3,"y":24.9},{"x":64.8,"y":25.9},{"x":66.0,"y":26.2},{"x":67.6,"y":25.8},{"x":66.7,"y":25.1},{"x":69.5,"y":25.8},{"x":71.4,"y":25.9},{"x":72.4,"y":25.7},{"x":74.4,"y":25.1},
{"x":78.3,"y":24.0},{"x":79.1,"y":24.6},{"x":78.7,"y":23.2},{"x":75.1,"y":23.2},{"x":72.2,"y":23.9},{"x":72.2,"y":22.8},{"x":71.1,"y":22.5},{"x":70.3,"y":21.8},{"x":71.2,"y":21.0},{"x":67.0,"y":23.8},
{"x":68.2,"y":23.4},{"x":66.8,"y":22.3},{"x":67.9,"y":21.5},{"x":66.8,"y":20.9},{"x":68.0,"y":20.5},{"x":74.0,"y":21.4},{"x":76.1,"y":21.6},{"x":77.2,"y":21.6},{"x":53.7,"y":22.8},{"x":55.9,"y":22.6},
{"x":57.0,"y":22.8},{"x":58.3,"y":22.2},{"x":59.3,"y":22.1},{"x":59.6,"y":23.1},{"x":62.8,"y":23.3},{"x":63.7,"y":22.9},{"x":64.8,"y":22.7},{"x":64.1,"y":21.9},{"x":63.3,"y":21.3},{"x":54.0,"y":21.0},
{"x":54.9,"y":21.4},{"x":54.2,"y":20.0},{"x":54.2,"y":18.8},{"x":55.5,"y":19.3},{"x":57.4,"y":20.5},{"x":58.4,"y":21.2},{"x":58.4,"y":20.1},{"x":58.4,"y":19.1},{"x":57.4,"y":18.8},{"x":59.5,"y":19.8},
{"x":60.3,"y":20.4},{"x":59.4,"y":18.2},{"x":60.5,"y":18.5},{"x":61.5,"y":19.0},{"x":62.0,"y":18.1},{"x":62.6,"y":19.3},{"x":63.0,"y":17.9},{"x":63.7,"y":17.0},{"x":60.1,"y":16.6},{"x":54.9,"y":17.0},
{"x":65.8,"y":19.7},{"x":66.2,"y":18.7},{"x":67.6,"y":18.3},{"x":68.7,"y":17.9},{"x":69.7,"y":17.7},{"x":70.6,"y":17.4},{"x":71.6,"y":17.5},{"x":71.7,"y":16.4},{"x":69.6,"y":18.8},{"x":70.1,"y":19.7},
{"x":68.9,"y":16.3},{"x":76.2,"y":18.9},{"x":76.2,"y":17.8},{"x":75.3,"y":16.8},{"x":77.5,"y":17.1},{"x":78.5,"y":16.1},{"x":78.3,"y":14.9},{"x":76.1,"y":14.8},{"x":75.2,"y":14.3},{"x":72.7,"y":14.7},
{"x":53.5,"y":15.3},{"x":53.7,"y":13.3},{"x":57.8,"y":14.8},{"x":57.5,"y":13.7},{"x":55.8,"y":13.2},{"x":56.2,"y":12.3},{"x":57.3,"y":12.6},{"x":58.7,"y":12.5},{"x":57.1,"y":11.6},{"x":58.2,"y":11.7},
{"x":54.3,"y":11.6},{"x":55.3,"y":11.2},{"x":54.4,"y":10.6},{"x":55.9,"y":10.5},{"x":56.9,"y":10.6},{"x":56.7,"y":9.6},{"x":54.0,"y":9.1},{"x":55.2,"y":8.9},{"x":56.4,"y":8.4},{"x":55.4,"y":8.0},
{"x":57.0,"y":7.3},{"x":60.1,"y":11.8},{"x":61.1,"y":12.3},{"x":61.2,"y":11.3},{"x":60.6,"y":10.5},{"x":62.3,"y":10.5},{"x":63.3,"y":11.5},{"x":63.5,"y":10.4},{"x":61.1,"y":15.5},{"x":62.4,"y":15.7},
{"x":62.0,"y":14.8},{"x":62.2,"y":13.7},{"x":64.6,"y":15.5},{"x":66.2,"y":15.6},{"x":65.9,"y":14.3},{"x":67.4,"y":14.9},{"x":68.6,"y":13.5},{"x":66.6,"y":12.5},{"x":66.7,"y":11.1},{"x":67.9,"y":11.1},
{"x":68.0,"y":10.0},{"x":71.3,"y":13.1},{"x":70.7,"y":11.8},{"x":71.8,"y":11.6},{"x":71.9,"y":10.6},{"x":71.7,"y":9.6},{"x":69.6,"y":9.6},{"x":71.1,"y":8.7},{"x":72.5,"y":8.9},{"x":71.7,"y":8.0},
{"x":73.3,"y":8.2},{"x":75.3,"y":11.3},{"x":75.3,"y":8.8},{"x":75.7,"y":7.9},{"x":76.7,"y":7.9},{"x":77.9,"y":7.3},{"x":77.7,"y":10.4},{"x":79.2,"y":10.7},{"x":79.8,"y":9.9},{"x":62.8,"y":9.2},
{"x":62.9,"y":8.2},{"x":64.5,"y":8.7},{"x":65.1,"y":9.5},{"x":65.4,"y":8.1},{"x":66.3,"y":7.8},{"x":64.0,"y":7.8},{"x":62.5,"y":6.9},{"x":63.6,"y":6.9},{"x":64.6,"y":6.9},{"x":65.6,"y":7.1},
{"x":61.3,"y":7.4},{"x":68.9,"y":8.5},{"x":69.2,"y":7.2},{"x":69.1,"y":6.2},{"x":67.2,"y":6.2},{"x":72.5,"y":6.5},{"x":69.7,"y":5.2},{"x":70.4,"y":4.4},{"x":71.4,"y":4.6},{"x":66.7,"y":4.9},
{"x":69.4,"y":3.2},{"x":73.9,"y":4.9},{"x":76.0,"y":4.7},{"x":76.5,"y":5.7},{"x":76.7,"y":3.9},{"x":79.7,"y":5.9},{"x":75.7,"y":2.7},{"x":76.2,"y":1.7},{"x":77.2,"y":1.1},{"x":76.1,"y":0.7},
{"x":77.7,"y":2.5},{"x":79.1,"y":2.3},{"x":79.7,"y":3.2},{"x":74.4,"y":2.3},{"x":74.0,"y":0.9},{"x":72.2,"y":2.1},{"x":67.8,"y":0.7},{"x":66.6,"y":0.7},{"x":64.7,"y":1.0},{"x":61.5,"y":0.9},
{"x":59.2,"y":1.4},{"x":53.4,"y":0.8},{"x":54.6,"y":0.4},{"x":64.1,"y":3.6},{"x":65.1,"y":3.4},{"x":66.1,"y":3.2},{"x":60.6,"y":3.4},{"x":61.3,"y":4.4},{"x":60.3,"y":5.1},{"x":59.4,"y":6.0},
{"x":58.5,"y":5.8},{"x":57.7,"y":5.2},{"x":59.0,"y":4.7},{"x":58.9,"y":3.7},{"x":56.7,"y":3.3},{"x":56.2,"y":5.3},{"x":54.5,"y":5.0},{"x":54.3,"y":4.0}
  ]},
  "mark": {
    "type": "point",
    "shape": "circle",
    "filled": true,
    "fill": "#e3cde4",
    "stroke": "#3c2f3c",
    "strokeWidth": 1,
    "strokeOpacity": 0.75,
    "opacity": 1,
    "size": 165,
    "clip": true
  },
  "encoding": {
    "x": {
      "field": "x",
      "type": "quantitative",
      "scale": {"domain": [0, 80], "nice": false, "zero": false},
      "axis": {"values": [0, 20, 40, 60, 80], "labelPadding": 15, "grid": true}
    },
    "y": {
      "field": "y",
      "type": "quantitative",
      "scale": {"domain": [0, 80], "nice": false, "zero": false},
      "axis": {"values": [0, 20, 40, 60, 80], "labelPadding": 22, "grid": true}
    }
  }
}
